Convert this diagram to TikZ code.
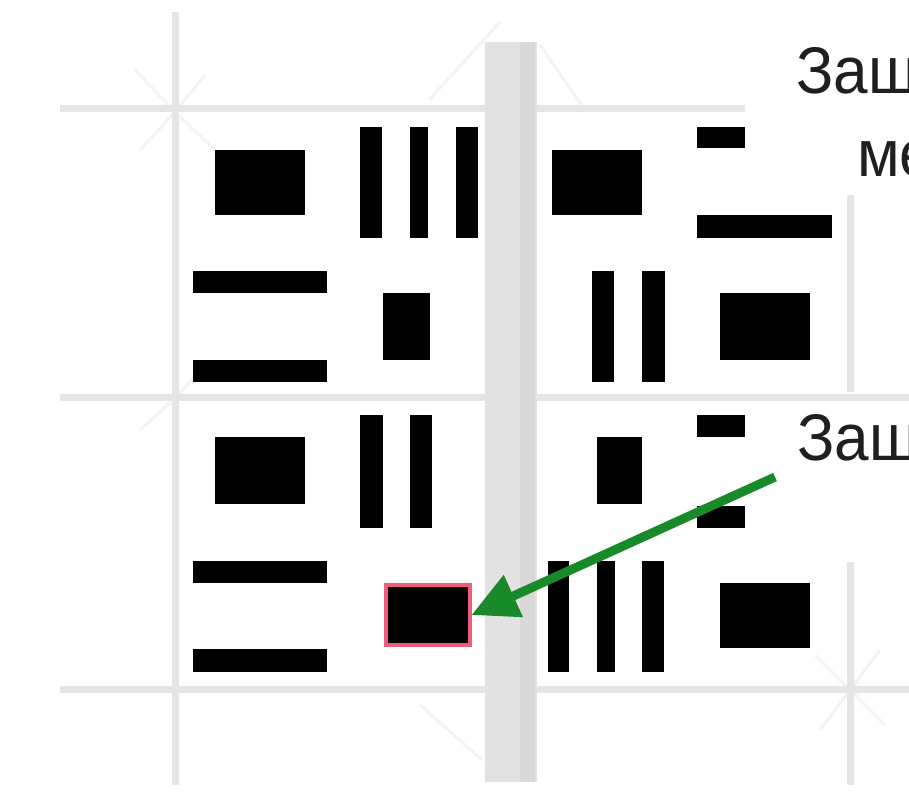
\documentclass[tikz,border=0pt]{standalone}
\usepackage{fontspec}
\setmainfont{Liberation Sans}
\usetikzlibrary{arrows.meta}
\definecolor{gridgray}{RGB}{229,229,229}
\definecolor{bandgray}{RGB}{226,226,226}
\definecolor{banddark}{RGB}{217,217,217}
\definecolor{faintgray}{RGB}{243,243,243}
\definecolor{arrowgreen}{RGB}{24,138,42}
\definecolor{hlpink}{RGB}{238,92,125}
\begin{document}
\begin{tikzpicture}[x=1pt,y=-1pt,
  gridline/.style={draw=gridgray, line width=7pt},
  faintline/.style={draw=faintgray, line width=3pt},
  blk/.style={fill=black},
  panel/.style={fill=white},
  lbl/.style={font=\fontsize{66}{66}\selectfont, inner sep=0pt, anchor=base west, text=black!88, xscale=0.94},
  arr/.style={draw=arrowgreen, line width=9pt, -{Triangle[length=46pt,width=44pt]}},
  hlbox/.style={fill=black, draw=hlpink, line width=4pt, minimum width=84pt, minimum height=60pt, inner sep=0pt}
]
\useasboundingbox (0,0) rectangle (909,793);
\clip (0,0) rectangle (909,793);
\fill[white] (0,0) rectangle (909,793);

% faint diagonal traces
\draw[faintline] (429,100) -- (500,22);
\draw[faintline] (540,45) -- (585,110);
\draw[faintline] (135,70) -- (175,112) -- (215,150);
\draw[faintline] (140,150) -- (175,112) -- (205,75);
\draw[faintline] (420,705) -- (482,760);
\draw[faintline] (815,655) -- (850,690) -- (885,725);
\draw[faintline] (820,730) -- (850,690) -- (880,650);
\draw[faintline] (140,430) -- (175,398) -- (210,360);

% background grid lines
\draw[gridline] (60,108) -- (745,108);
\draw[gridline] (60,397) -- (909,397);
\draw[gridline] (60,689) -- (909,689);
\draw[gridline] (175,12) -- (175,785);
\draw[gridline] (850,195) -- (850,392);
\draw[gridline] (850,562) -- (850,785);
\fill[bandgray] (485,42) rectangle (537,782);
\fill[banddark] (520,42) rectangle (535,782);

% top-left cell
\fill[blk] (215,150) rectangle (305,215);
\fill[blk] (360,127) rectangle (382,238);
\fill[blk] (410,127) rectangle (428,238);
\fill[blk] (456,127) rectangle (478,238);
\fill[blk] (193,271) rectangle (327,293);
\fill[blk] (193,360) rectangle (327,382);
\fill[blk] (383,293) rectangle (430,360);

% top-right cell
\fill[blk] (552,150) rectangle (642,215);
\fill[blk] (697,127) rectangle (760,148);
\fill[blk] (697,215) rectangle (832,238);
\fill[blk] (592,271) rectangle (614,382);
\fill[blk] (642,271) rectangle (665,382);
\fill[blk] (720,293) rectangle (810,360);

% bottom-left cell
\fill[blk] (215,437) rectangle (305,504);
\fill[blk] (360,415) rectangle (383,528);
\fill[blk] (410,415) rectangle (432,528);
\fill[blk] (193,561) rectangle (327,583);
\fill[blk] (193,649) rectangle (327,672);
\node[hlbox] (hl) at (427.5,615) {};

% bottom-right cell
\fill[blk] (597,437) rectangle (642,504);
\fill[blk] (697,415) rectangle (760,437);
\fill[blk] (697,506) rectangle (760,528);
\fill[blk] (548,561) rectangle (569,672);
\fill[blk] (597,561) rectangle (615,672);
\fill[blk] (642,561) rectangle (664,672);
\fill[blk] (720,583) rectangle (810,648);

% white label panels
\fill[panel] (745,0) rectangle (909,195);
\fill[panel] (745,402) rectangle (909,560);

\node[lbl] (t1) at (796,93) {Защ};
\node[lbl] (t2) at (857,176) {ме};
\node[lbl] (t3) at (797,460) {Защ};

% arrow
\coordinate (tail) at (775,477);
\draw[arr] (tail) -- (hl.east);
\end{tikzpicture}
\end{document}
